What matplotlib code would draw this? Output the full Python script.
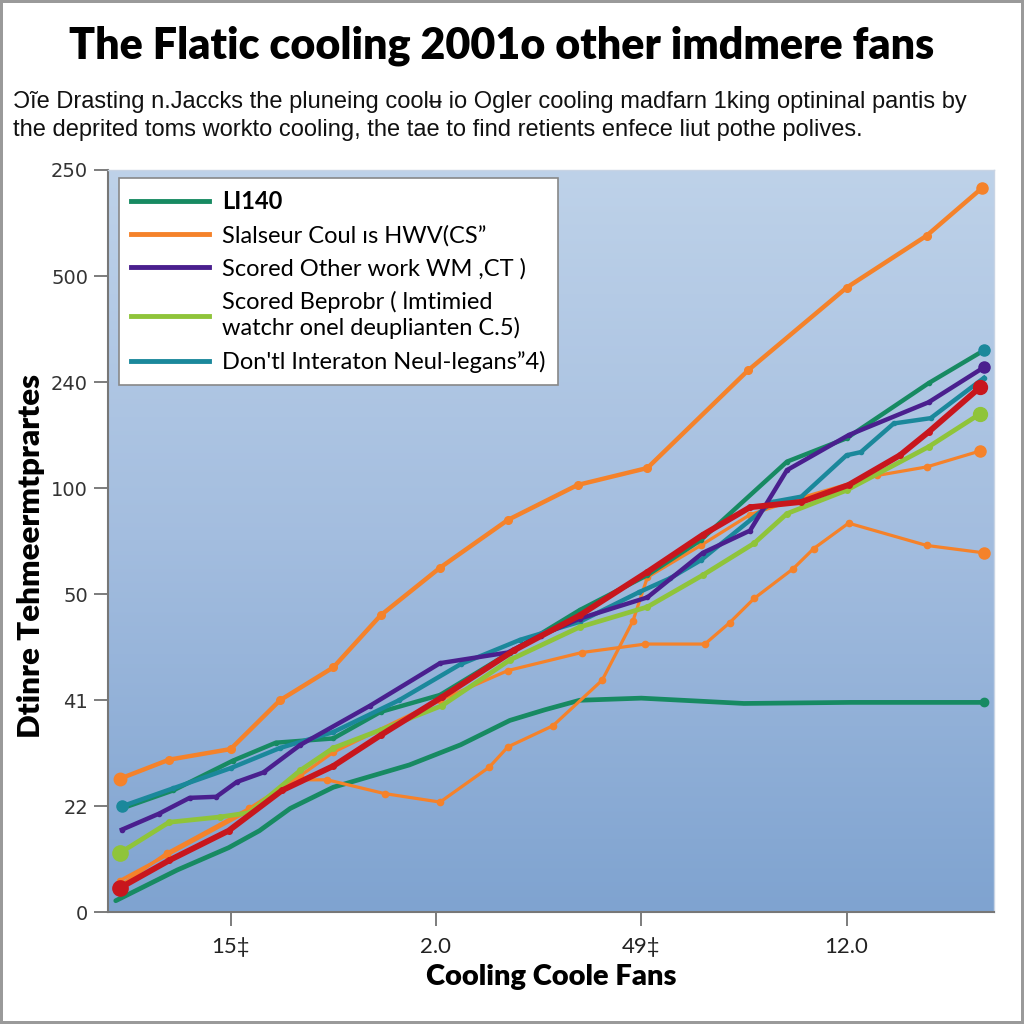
import numpy as np
import matplotlib
matplotlib.use("Agg")
import matplotlib.pyplot as plt
from matplotlib.colors import LinearSegmentedColormap
from matplotlib.lines import Line2D

LATO = ['Lato', 'DejaVu Sans']
ARIAL = ['Liberation Sans', 'DejaVu Sans']

title = "The Flatic cooling 2001o other imdmere fans"
subtitle = ("Ɔ̃ıe Drasting n.Jaccks the pluneing coolʉ io Ogler cooling madfarn 1king optininal pantis by\n"
            "the deprited toms workto cooling, the tae to find retients enfece liut pothe polives.")
xlabel = "Cooling Coole Fans"
ylabel = "Dtinre Tehmeermtprartes"

x_ticks = [0, 1, 2, 3]
x_ticklabels = ["15‡", "2.0", "49‡", "12.0"]
y_ticks = [0, 1, 2, 3, 4, 5, 6, 7]
y_ticklabels = ["0", "22", "41", "50", "100", "240", "500", "250"]

legend_labels = ["LI140",
                 "Slalseur Coul ıs HWV(CS\u02ee",
                 "Scored Other work WM ,CT )",
                 "Scored Beprobr ( lmtimied\nwatchr onel deuplianten C.5)",
                 "Don'tl Interaton Neul-legans\u02ee4)"]

# series
orange_top_x = [-0.54, -0.30, 0.00, 0.24, 0.50, 0.73, 1.02, 1.35, 1.69, 2.03, 2.52, 3.00, 3.39, 3.66]
orange_top_y = [1.26, 1.44, 1.54, 2.00, 2.31, 2.80, 3.25, 3.70, 4.03, 4.19, 5.11, 5.89, 6.38, 6.83]

green_x = [-0.53, -0.28, 0.01, 0.22, 0.50, 0.73, 1.02, 1.36, 1.70, 2.03, 2.29, 2.71, 3.00, 3.40, 3.67]
green_y = [0.98, 1.15, 1.43, 1.60, 1.64, 1.89, 2.05, 2.45, 2.85, 3.18, 3.51, 4.25, 4.47, 4.99, 5.30]

purple_x = [-0.53, -0.35, -0.20, -0.07, 0.03, 0.16, 0.34, 0.68, 1.02, 1.35, 1.51, 1.70, 2.03, 2.30, 2.53, 2.71, 3.01, 3.40, 3.67]
purple_y = [0.78, 0.93, 1.08, 1.09, 1.23, 1.32, 1.58, 1.95, 2.35, 2.45, 2.61, 2.77, 2.97, 3.39, 3.60, 4.17, 4.50, 4.81, 5.14]

yg_x = [-0.54, -0.30, -0.05, 0.09, 0.34, 0.50, 0.73, 1.03, 1.36, 1.70, 2.03, 2.30, 2.55, 2.71, 3.00, 3.40, 3.65]
yg_y = [0.56, 0.85, 0.90, 0.94, 1.34, 1.55, 1.72, 1.95, 2.38, 2.69, 2.88, 3.18, 3.48, 3.76, 3.98, 4.39, 4.70]

teal_x = [-0.53, -0.28, 0.00, 0.24, 0.50, 0.82, 1.12, 1.41, 1.70, 1.99, 2.14, 2.29, 2.64, 2.78, 3.00, 3.07, 3.23, 3.41, 3.67]
teal_y = [1.00, 1.17, 1.36, 1.55, 1.70, 2.00, 2.34, 2.57, 2.74, 3.02, 3.15, 3.32, 3.87, 3.92, 4.31, 4.34, 4.61, 4.66, 5.04]

red_x = [-0.54, -0.30, -0.01, 0.25, 0.50, 0.73, 1.03, 1.38, 1.70, 2.03, 2.30, 2.53, 2.78, 3.01, 3.26, 3.40, 3.65]
red_y = [0.23, 0.49, 0.77, 1.15, 1.38, 1.67, 2.03, 2.47, 2.80, 3.21, 3.56, 3.82, 3.87, 4.03, 4.31, 4.53, 4.95]

orange_flat_x = [-0.54, -0.31, 0.09, 0.34, 0.50, 1.02, 1.35, 1.71, 2.02, 2.31, 2.43, 2.55, 2.74, 2.84, 3.01, 3.39, 3.67]
orange_flat_y = [0.25, 0.56, 0.98, 1.29, 1.51, 2.00, 2.28, 2.45, 2.53, 2.53, 2.73, 2.96, 3.24, 3.43, 3.67, 3.46, 3.39]

orange_dip_x = [-0.54, -0.31, 0.09, 0.34, 0.47, 0.75, 1.02, 1.26, 1.35, 1.57, 1.81, 1.96, 2.03, 2.29, 2.53, 2.78, 3.15, 3.39, 3.65]
orange_dip_y = [0.30, 0.54, 0.96, 1.25, 1.25, 1.12, 1.04, 1.37, 1.56, 1.76, 2.19, 2.75, 3.16, 3.46, 3.75, 3.91, 4.12, 4.20, 4.35]

green_low_x = [-0.56, -0.26, -0.01, 0.14, 0.29, 0.50, 0.87, 1.12, 1.36, 1.53, 1.70, 2.00, 2.50, 3.02, 3.67]
green_low_y = [0.11, 0.40, 0.61, 0.77, 0.98, 1.18, 1.39, 1.58, 1.81, 1.91, 2.00, 2.02, 1.97, 1.98, 1.98]

GREEN = '#178a62'
ORANGE = '#f5822a'
PURPLE = '#4a1f8e'
YG = '#8fc43a'
TEAL = '#1b889b'
RED = '#c8161d'

fig = plt.figure(figsize=(10.24, 10.24), dpi=100)
fig.patch.set_facecolor('white')
fig.patch.set_edgecolor('#9a9a9a')
fig.patch.set_linewidth(3)

ax = fig.add_axes([0.105, 0.109, 0.866, 0.725])
ax.set_xlim(-0.6, 3.72)
ax.set_ylim(0, 7)

# gradient background
cmap = LinearSegmentedColormap.from_list('bg', ['#7fa3d0', '#a3bddf', '#bed2e9'])
grad = np.linspace(0, 1, 256).reshape(-1, 1)
ax.imshow(grad, extent=[-0.6, 3.72, 0, 7], origin='lower', aspect='auto',
          cmap=cmap, zorder=0)

ax.plot(green_low_x, green_low_y, color=GREEN, lw=3.4, zorder=3, solid_capstyle='round')
ax.plot(orange_dip_x, orange_dip_y, color=ORANGE, lw=2.3, marker='o', ms=4.5, zorder=3)
ax.plot(orange_flat_x, orange_flat_y, color=ORANGE, lw=2.3, marker='o', ms=4.5, zorder=3)
ax.plot(orange_top_x, orange_top_y, color=ORANGE, lw=3.2, marker='o', ms=5.5, zorder=4)
ax.plot(green_x, green_y, color=GREEN, lw=3.2, marker='o', ms=3, zorder=4)
ax.plot(teal_x, teal_y, color=TEAL, lw=3.2, marker='o', ms=3, zorder=4)
ax.plot(yg_x, yg_y, color=YG, lw=3.4, marker='o', ms=4, zorder=4)
ax.plot(purple_x, purple_y, color=PURPLE, lw=3.2, marker='o', ms=3, zorder=5)
ax.plot(red_x, red_y, color=RED, lw=4.2, marker='o', ms=4, zorder=6)
# end markers
ax.plot(orange_top_x[-1], orange_top_y[-1], 'o', color=ORANGE, ms=8, zorder=7)
ax.plot(red_x[0], red_y[0], 'o', color=RED, ms=11, zorder=7)
ax.plot(red_x[-1], red_y[-1], 'o', color=RED, ms=10, zorder=7)
ax.plot(yg_x[0], yg_y[0], 'o', color=YG, ms=11, zorder=7)
ax.plot(yg_x[-1], yg_y[-1], 'o', color=YG, ms=10, zorder=7)
ax.plot(teal_x[0], teal_y[0], 'o', color=TEAL, ms=8, zorder=7)
ax.plot(purple_x[-1], purple_y[-1], 'o', color=PURPLE, ms=8, zorder=7)
ax.plot(green_x[-1], green_y[-1], 'o', color=TEAL, ms=8, zorder=7)
ax.plot(orange_flat_x[-1], orange_flat_y[-1], 'o', color=ORANGE, ms=8, zorder=7)
ax.plot(orange_dip_x[-1], orange_dip_y[-1], 'o', color=ORANGE, ms=8, zorder=7)
ax.plot(orange_top_x[0], orange_top_y[0], 'o', color=ORANGE, ms=9, zorder=7)
ax.plot(green_low_x[-1], green_low_y[-1], 'o', color=GREEN, ms=6, zorder=7)

ax.set_xticks(x_ticks)
ax.set_xticklabels(x_ticklabels, fontsize=16, family=LATO, color='#222222')
ax.set_yticks(y_ticks)
ax.set_yticklabels(y_ticklabels, fontsize=14, color='#333333')
ax.tick_params(axis='both', direction='out', length=10, width=1.2, color='#666666')
ax.tick_params(axis='y', pad=4)
ax.tick_params(axis='x', pad=8)
for s in ['left', 'bottom']:
    ax.spines[s].set_color('#777777')
    ax.spines[s].set_linewidth(1.5)
for s in ['top', 'right']:
    ax.spines[s].set_color('#c8d4e4')
    ax.spines[s].set_linewidth(1)

ax.set_xlabel(xlabel, fontsize=21, fontweight='heavy', family=LATO, labelpad=5)
ax.set_ylabel(ylabel, fontsize=22.5, fontweight='heavy', family=LATO)
ax.yaxis.set_label_coords(-0.071, 0.48)

handles = [Line2D([], [], color=c, lw=3.5) for c in [GREEN, ORANGE, PURPLE, YG, TEAL]]
leg = ax.legend(handles, legend_labels, loc='upper left', bbox_to_anchor=(0.0135, 0.989),
                borderaxespad=0,
                prop={'family': LATO, 'size': 17}, frameon=True, fancybox=False,
                framealpha=1, edgecolor='#888888', handlelength=3.3, handletextpad=0.55,
                labelspacing=0.5, borderpad=0.5)
leg.get_frame().set_linewidth(1.2)
leg.set_zorder(10)
leg.get_texts()[0].set_fontweight('bold')

fig.text(0.49, 0.955, title, ha='center', va='center', fontsize=31,
         fontweight='heavy', family=LATO)
fig.text(0.013, 0.887, subtitle, ha='left', va='center', fontsize=17,
         family=ARIAL, linespacing=1.35, color='#111111')

fig.savefig('out.png', dpi=100)
